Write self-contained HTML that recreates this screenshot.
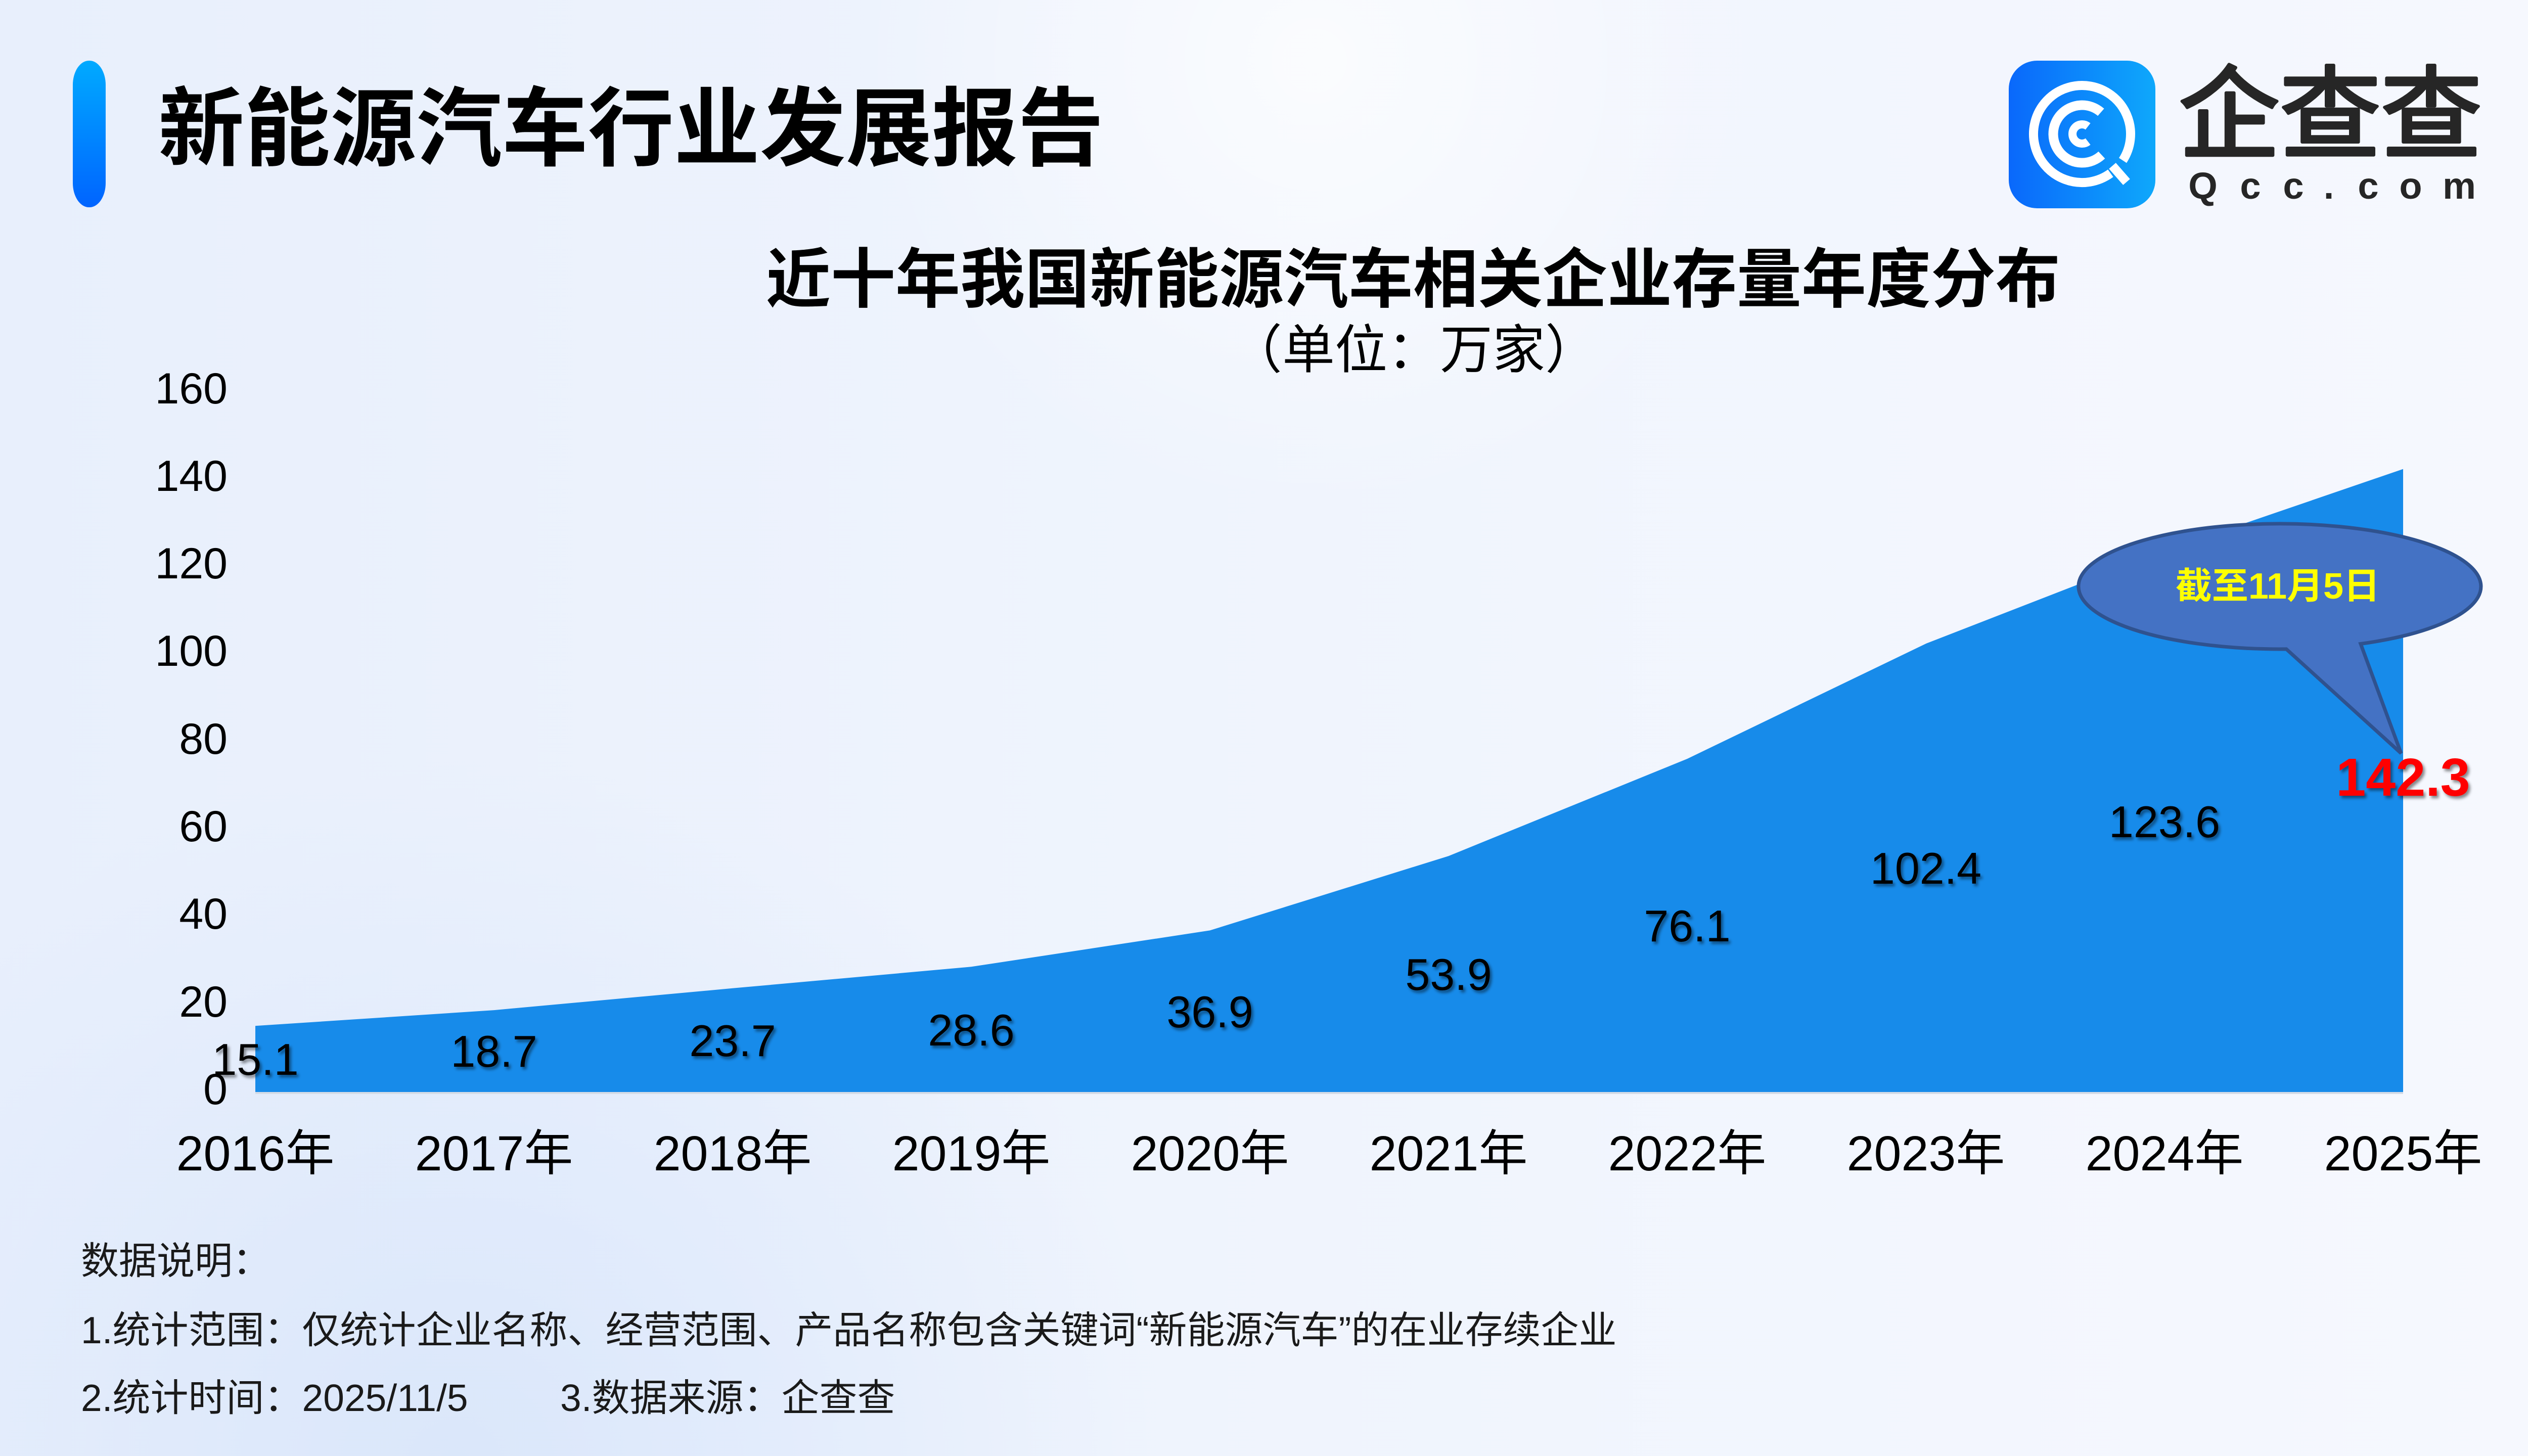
<!DOCTYPE html>
<html>
<head>
<meta charset="utf-8">
<style>
html,body{margin:0;padding:0;}
body{width:5120px;height:2880px;overflow:hidden;}
svg{display:block;}
.cjk{font-family:"Liberation Sans","Noto Sans CJK SC",sans-serif;}
.lat{font-family:"Liberation Sans",sans-serif;}
</style>
</head>
<body>
<svg width="5120" height="2880" viewBox="0 0 5120 2880" xmlns="http://www.w3.org/2000/svg">
  <defs>
    <linearGradient id="bg" x1="0" y1="0" x2="1" y2="0">
      <stop offset="0" stop-color="#e8effc"/>
      <stop offset="0.45" stop-color="#eff4fd"/>
      <stop offset="1" stop-color="#f6f8fe"/>
    </linearGradient>
    <radialGradient id="blobW" cx="2600" cy="120" r="900" gradientUnits="userSpaceOnUse">
      <stop offset="0" stop-color="#ffffff" stop-opacity="0.7"/>
      <stop offset="1" stop-color="#ffffff" stop-opacity="0"/>
    </radialGradient>
    <radialGradient id="blobB" cx="900" cy="2900" r="1400" gradientUnits="userSpaceOnUse">
      <stop offset="0" stop-color="#d6e4fa" stop-opacity="0.8"/>
      <stop offset="1" stop-color="#d6e4fa" stop-opacity="0"/>
    </radialGradient>
    <linearGradient id="bar" x1="0" y1="0" x2="0" y2="1">
      <stop offset="0" stop-color="#00aaff"/>
      <stop offset="1" stop-color="#0064ff"/>
    </linearGradient>
    <linearGradient id="icon" x1="0" y1="0" x2="1" y2="0">
      <stop offset="0" stop-color="#0a68fb"/>
      <stop offset="1" stop-color="#0ea8fb"/>
    </linearGradient>
    <filter id="sh" x="-20%" y="-30%" width="140%" height="160%">
      <feDropShadow dx="4" dy="5" stdDeviation="3" flood-color="#000" flood-opacity="0.45"/>
    </filter>
  </defs>

  <!-- background -->
  <rect x="0" y="0" width="5120" height="2880" fill="url(#bg)"/>
  <rect x="0" y="0" width="5120" height="2880" fill="url(#blobW)"/>
  <rect x="0" y="0" width="5120" height="2880" fill="url(#blobB)"/>

  <!-- header accent bar -->
  <rect x="144" y="120" width="65" height="290" rx="32" ry="48" fill="url(#bar)"/>

  <!-- main title -->
  <text x="313" y="314" class="cjk" font-size="170" font-weight="bold" fill="#000">新能源汽车行业发展报告</text>

  <!-- logo icon -->
  <rect x="3973" y="120" width="290" height="292" rx="56" ry="56" fill="url(#icon)"/>
  <g fill="none" stroke="#ffffff" stroke-linecap="butt">
    <path d="M4174.4,342.7 A96,96 0 1 1 4198.5,317.3" stroke-width="18"/>
    <line x1="4178" y1="328" x2="4206" y2="360" stroke-width="18"/>
    <path d="M4156.9,306.7 A57,57 0 1 1 4155.4,222.0" stroke-width="19"/>
    <path d="M4129.7,280 A19,19 0 1 1 4129.7,250" stroke-width="16"/>
  </g>
  <!-- logo text -->
  <text x="4309" y="297" class="cjk" font-size="200" font-weight="normal" fill="#262626" stroke="#262626" stroke-width="6" stroke-linejoin="round">企查查</text>
  <g class="lat" font-size="74" font-weight="bold" fill="#262626" text-anchor="middle">
    <text x="4357" y="393">Q</text>
    <text x="4451" y="393">c</text>
    <text x="4536" y="393">c</text>
    <text x="4606" y="393">.</text>
    <text x="4684" y="393">c</text>
    <text x="4768" y="393">o</text>
    <text x="4864" y="393">m</text>
  </g>

  <!-- chart title -->
  <text x="2795" y="597" class="cjk" font-size="128" font-weight="bold" fill="#000" text-anchor="middle">近十年我国新能源汽车相关企业存量年度分布</text>
  <text x="2796" y="728" class="cjk" font-size="104" fill="#000" text-anchor="middle">（单位：万家）</text>

  <!-- y axis labels -->
  <g class="lat" font-size="86" fill="#000" text-anchor="end">
    <text x="450" y="798">160</text>
    <text x="450" y="971">140</text>
    <text x="450" y="1144">120</text>
    <text x="450" y="1317">100</text>
    <text x="450" y="1491">80</text>
    <text x="450" y="1664">60</text>
    <text x="450" y="1837">40</text>
    <text x="450" y="2011">20</text>
    <text x="450" y="2184">0</text>
  </g>

  <!-- area -->
  <polygon fill="#178bea" points="505,2029.2 977,1998.1 1449,1954.8 1921,1912.3 2393,1840.4 2865,1693.2 3337,1501.0 3809,1273.2 4281,1089.6 4753,927.7 4753,2160 505,2160"/>
  <line x1="505" y1="2162" x2="4753" y2="2162" stroke="#d5dce6" stroke-width="4"/>

  <!-- x labels -->
  <g class="cjk" font-size="97" fill="#000" text-anchor="middle">
    <text x="505" y="2315">2016年</text>
    <text x="977" y="2315">2017年</text>
    <text x="1449" y="2315">2018年</text>
    <text x="1921" y="2315">2019年</text>
    <text x="2393" y="2315">2020年</text>
    <text x="2865" y="2315">2021年</text>
    <text x="3337" y="2315">2022年</text>
    <text x="3809" y="2315">2023年</text>
    <text x="4281" y="2315">2024年</text>
    <text x="4753" y="2315">2025年</text>
  </g>

  <!-- data labels -->
  <g class="lat" font-size="88" fill="#000" text-anchor="middle" filter="url(#sh)">
    <text x="505" y="2126">15.1</text>
    <text x="977" y="2110">18.7</text>
    <text x="1449" y="2089">23.7</text>
    <text x="1921" y="2068">28.6</text>
    <text x="2393" y="2032">36.9</text>
    <text x="2865" y="1958">53.9</text>
    <text x="3337" y="1862">76.1</text>
    <text x="3809" y="1748">102.4</text>
    <text x="4281" y="1656">123.6</text>
  </g>
  <text x="4753" y="1574" class="lat" font-size="106" font-weight="bold" fill="#ff0000" text-anchor="middle" filter="url(#sh)">142.3</text>

  <!-- callout -->
  <path d="M4669,1273.5 A398,124 0 1 0 4522,1283.9 L4749,1490 Z" fill="#4472c4" stroke="#2f528f" stroke-width="7" stroke-linejoin="miter"/>
  <text x="4505" y="1184" class="cjk" font-size="72" font-weight="bold" fill="#ffff00" text-anchor="middle">截至11月5日</text>

  <!-- footnotes -->
  <g class="cjk" font-size="75" fill="#1a1a1a">
    <text x="160" y="2520">数据说明：</text>
    <text x="160" y="2657">1.统计范围：仅统计企业名称、经营范围、产品名称包含关键词“新能源汽车”的在业存续企业</text>
    <text x="160" y="2791">2.统计时间：2025/11/5</text>
    <text x="1108" y="2791">3.数据来源：企查查</text>
  </g>
</svg>
</body>
</html>
